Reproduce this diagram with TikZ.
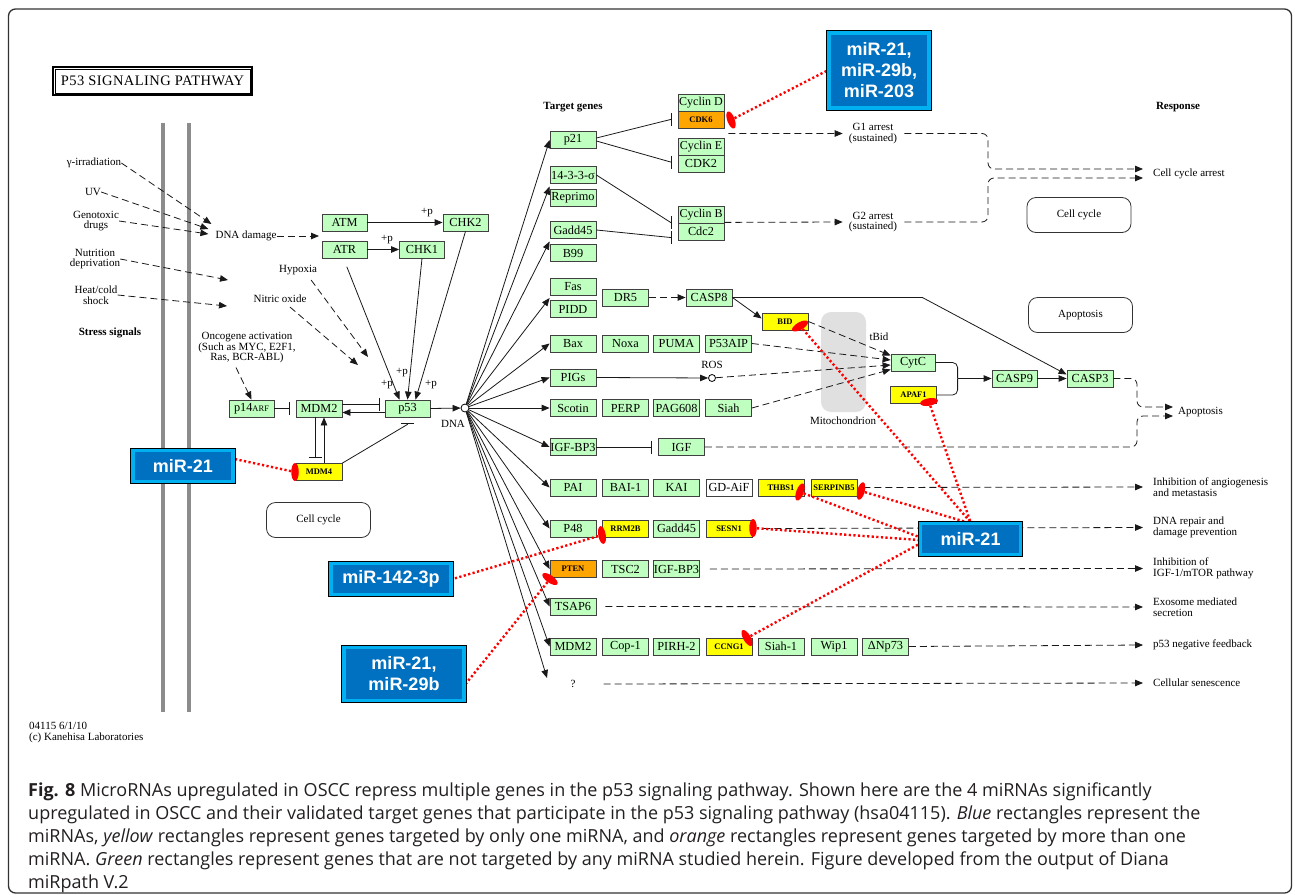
\documentclass[tikz,border=0pt]{standalone}
\usepackage{fontspec}
\setmainfont{Liberation Serif}
\newfontfamily\mirfont{Liberation Sans}
\newfontfamily\capfont{Open Sans}
\usetikzlibrary{arrows.meta,calc,shadows,shapes.geometric}
\pgfdeclarelayer{links}
\pgfdeclarelayer{front}
\pgfsetlayers{main,links,front}
\definecolor{kgreen}{HTML}{BFFFBF}
\definecolor{kyellow}{HTML}{FFFF00}
\definecolor{korange}{HTML}{FFA500}
\definecolor{mirblue}{HTML}{0070C0}
\definecolor{mircyan}{HTML}{00B0F0}
\definecolor{memgray}{HTML}{8C8C8C}
\definecolor{mitogray}{HTML}{E0E0E0}
\definecolor{captext}{HTML}{231F20}
\begin{document}
\begin{tikzpicture}[x=1pt,y=-1pt,
  gene/.style={draw=black!75, line width=0.8pt, fill=kgreen, minimum width=46pt, minimum height=17pt, inner sep=0pt, font=\fontsize{12.3}{12}\selectfont},
  ygene/.style={gene, fill=kyellow, font=\fontsize{8.5}{9}\selectfont\bfseries},
  ogene/.style={gene, fill=korange, font=\fontsize{8.5}{9}\selectfont\bfseries},
  wgene/.style={gene, fill=white},
  lab/.style={inner sep=0pt, font=\fontsize{11}{10.5}\selectfont, align=center},
  blab/.style={lab, font=\fontsize{11}{11}\selectfont\bfseries},
  rlab/.style={inner sep=0pt, anchor=west, font=\fontsize{11}{10.5}\selectfont, align=left},
  conn/.style={line width=0.8pt, black!90},
  arr/.style={conn, -{Triangle[length=8pt,width=6.5pt]}},
  dsh/.style={dash pattern=on 7pt off 4pt},
  inh/.style={conn, -{Bar[width=13pt]}},
  rbox/.style={draw=black!80, line width=0.8pt, rounded corners=9pt, minimum width=104pt, minimum height=35pt, font=\fontsize{11}{12}\selectfont},
  target/.style={ellipse, fill=red, inner sep=0pt, minimum width=7.5pt, minimum height=18pt},
  mirlink/.style={red, line width=2.4pt, dash pattern=on 2.2pt off 2.4pt},
  mirbox/.style={drop shadow={shadow xshift=3pt,shadow yshift=-3pt,opacity=0.35}, preaction={draw=black, line width=5.5pt}, draw=mircyan, line width=3.2pt, fill=mirblue, text=white, font=\mirfont\bfseries\fontsize{18}{21}\selectfont, align=center, inner sep=0pt},
  capline/.style={anchor=base west, inner sep=0pt, text=captext, font=\capfont\fontsize{18}{20}\selectfont},
]
\useasboundingbox (0,0) rectangle (1295,894);
% frame
\draw[black!80, line width=1.3pt, rounded corners=7pt] (8.5,9) rectangle (1291.5,893);
% title
\node[draw, line width=2pt, minimum width=199pt, minimum height=28pt, inner sep=0pt, font=\fontsize{14.5}{15}\selectfont\addfontfeature{LetterSpace=3}] (title) at (152.5,81) {P53 SIGNALING PATHWAY};
\draw[line width=0.7pt] ($(title.north west)+(3,3)$) rectangle ($(title.south east)+(-3,-3)$);
% membrane
\draw[memgray, line width=4pt] (162.5,123) -- (162.5,712);
\draw[memgray, line width=4pt] (188.5,123) -- (188.5,712);
% stress signals
\node[lab] (gamma) at (94,163) {γ-irradiation};
\node[lab] (uv) at (93,192) {UV};
\node[lab] (geno) at (96,221) {Genotoxic\\drugs};
\node[lab] (nutr) at (95,259) {Nutrition\\deprivation};
\node[lab] (heat) at (96,295) {Heat/cold\\shock};
\node[blab] (stress) at (110,333) {Stress signals};
\node[lab] (dnadmg) at (246,236) {DNA damage};
\coordinate (nutrend) at (228,280);
\coordinate (heatend) at (227,306);
\coordinate (ddend) at (319,236);
\draw[arr,dsh] (gamma.east) -- ($(dnadmg.west)+(-4,-12)$);
\draw[arr,dsh] (uv.east) -- ($(dnadmg.west)+(-7,-7)$);
\draw[arr,dsh] (geno.east) -- ($(dnadmg.west)+(-7,-2)$);
\draw[arr,dsh] (nutr.east) -- (nutrend);
\draw[arr,dsh] (heat.east) -- (heatend);
\draw[arr,dsh] (dnadmg.east) -- (ddend);
% kinases
\node[gene, minimum width=45pt] (atm) at (344.5,222.5) {ATM};
\node[gene, minimum width=45pt] (chk2) at (465.5,222.5) {CHK2};
\node[gene, minimum width=45pt] (atr) at (344.5,249.5) {ATR};
\node[gene, minimum width=45pt] (chk1) at (422,249.5) {CHK1};
\draw[arr] (atm.east) -- (chk2.west);
\draw[arr] (atr.east) -- (chk1.west);
\node[lab] (pp1) at (427,213) {+p};
\node[lab] (pp2) at (387,240) {+p};
% hypoxia etc
\node[lab] (hypox) at (298,270) {Hypoxia};
\node[lab] (nitric) at (280,299) {Nitric oxide};
\node[lab] (onco) at (247,348) {Oncogene activation\\(Such as MYC, E2F1,\\Ras, BCR-ABL)};
\coordinate (hypend) at (368,357);
\coordinate (nitend) at (358,365);
\draw[arr,dsh] ($(hypox.south east)+(-6,5)$) -- (hypend);
\draw[arr,dsh] ($(nitric.south)+(10,4)$) -- (nitend);
% p53 core
\node[gene, minimum width=45pt] (p14arf) at (251.5,408.5) {p14{\fontsize{8.5}{8}\selectfont ARF}};
\node[gene] (mdm2) at (319,408.5) {MDM2};
\node[gene, minimum width=45pt] (p53) at (407.5,408.5) {p53};
\node[ygene] (mdm4) at (319,472) {MDM4};
\node[circle, draw, line width=0.8pt, fill=white, minimum size=8pt, inner sep=0pt] (dna) at (465,408) {};
\node[lab] (dnalab) at (453,424) {DNA};
\draw[arr,dsh] ($(onco.south)+(-11,4)$) -- (p14arf.north);
\draw[arr] ($(atr.south)+(-1,0)$) -- ($(p53.north)+(-8,0)$) [shorten <=9pt];
\draw[arr] (chk1.south) -- (p53.north);
\draw[arr] (chk2.south) -- ($(p53.north)+(8,0)$);
\node[lab] (pp3) at (387,385) {+p};
\node[lab] (pp4) at (402,373) {+p};
\node[lab] (pp5) at (431,385) {+p};
\draw[inh, shorten >=6pt] (p14arf.east) -- (mdm2.west);
\draw[inh, shorten >=5pt] ($(mdm2.east)+(0,-4.5)$) -- ($(p53.west)+(0,-4.5)$);
\draw[arr] ($(p53.west)+(0,4)$) -- ($(mdm2.east)+(0,4)$);
\draw[arr] (p53.east) -- (dna);
\draw[inh, shorten >=5pt] ($(mdm2.south)+(-4,0)$) -- ($(mdm4.north)+(-4,0)$);
\draw[arr] ($(mdm4.north)+(5,0)$) -- ($(mdm2.south)+(5,0)$);
\draw[inh] (mdm4.north east) -- ($(p53.south)+(0,7)$) -- ($(p53.south)+(0,6)$);
\node[rbox] (ccbox2) at (318.5,520) {Cell cycle};
% target genes
\node[blab] (tglab) at (573,107) {Target genes};
\node[blab] (resplab) at (1178,107) {Response};
\node[gene] (p21) at (573,140) {p21};
\node[gene] (sig) at (573,175) {14-3-3-σ};
\node[gene] (reprimo) at (573,198) {Reprimo};
\node[gene] (gadd45a) at (573,230) {Gadd45};
\node[gene] (b99) at (573,253) {B99};
\node[gene] (fas) at (573,287) {Fas};
\node[gene] (pidd) at (573,309) {PIDD};
\node[gene] (dr5) at (625.5,297.5) {DR5};
\node[gene] (casp8) at (709,297.5) {CASP8};
\node[ygene] (bid) at (785,321.5) {BID};
\node[gene] (bax) at (573,343.5) {Bax};
\node[gene] (noxa) at (625.5,343.5) {Noxa};
\node[gene] (puma) at (676.5,343.5) {PUMA};
\node[gene] (p53aip) at (728.5,343.5) {P53AIP};
\node[gene] (pigs) at (573,377.5) {PIGs};
\node[gene] (scotin) at (573,408) {Scotin};
\node[gene] (perp) at (625.5,408) {PERP};
\node[gene] (pag608) at (676.5,408) {PAG608};
\node[gene] (siah) at (728.5,408) {Siah};
\node[gene] (igfbp3a) at (573,447) {IGF-BP3};
\node[gene] (igf) at (681.5,447) {IGF};
\node[gene] (pai) at (573,487.5) {PAI};
\node[gene] (bai1) at (625.5,487.5) {BAI-1};
\node[gene] (kai) at (676.5,487.5) {KAI};
\node[wgene] (gdaif) at (729,487.5) {GD-AiF};
\node[ygene] (thbs1) at (781,487.5) {THBS1};
\node[ygene] (serpinb5) at (834,487.5) {SERPINB5};
\node[gene] (p48) at (573,528.5) {P48};
\node[ygene] (rrm2b) at (625.5,528.5) {RRM2B};
\node[gene] (gadd45b) at (676.5,528.5) {Gadd45};
\node[ygene] (sesn1) at (729,528.5) {SESN1};
\node[ogene] (pten) at (573,569) {PTEN};
\node[gene] (tsc2) at (625.5,569) {TSC2};
\node[gene] (igfbp3b) at (676.5,569) {IGF-BP3};
\node[gene] (tsap6) at (573,606.5) {TSAP6};
\node[gene] (mdm2b) at (573,646.5) {MDM2};
\node[gene] (cop1) at (625.5,646.5) {Cop-1};
\node[gene] (pirh2) at (676.5,646.5) {PIRH-2};
\node[ygene] (ccng1) at (729,646.5) {CCNG1};
\node[gene] (siah1) at (781,646.5) {Siah-1};
\node[gene] (wip1) at (834,646.5) {Wip1};
\node[gene] (dnp73) at (885.5,646.5) {ΔNp73};
\node[lab] (q) at (573,684) {?};
\coordinate (qend) at (547,678);
\coordinate (t-sig) at ($(sig.south west)!0.5!(reprimo.north west)$);
\coordinate (t-gadd) at ($(gadd45a.south west)!0.5!(b99.north west)$);
\coordinate (t-fas) at ($(fas.south west)!0.5!(pidd.north west)$);
\foreach \t in {p21.west, t-sig, t-gadd, t-fas, bax.west, pigs.west, scotin.west, igfbp3a.west, pai.west, p48.west, pten.west, tsap6.west, mdm2b.west, qend}
  \draw[arr] (dna) -- (\t);
% cyclins
\node[gene, font=\fontsize{12}{12}\selectfont] (cycd) at (701,102.5) {Cyclin D};
\node[ogene] (cdk6) at (701,119.5) {CDK6};
\node[gene, font=\fontsize{12}{12}\selectfont] (cyce) at (701,146.5) {Cyclin E};
\node[gene] (cdk2) at (701,163.5) {CDK2};
\node[gene, font=\fontsize{12}{12}\selectfont] (cycb) at (701,214.5) {Cyclin B};
\node[gene] (cdc2) at (701,231.5) {Cdc2};
\draw[inh] ($(p21.east)+(0,-2)$) -- ($(cdk6.west)+(-7,0)$) -- ($(cdk6.west)+(-6,0)$);
\draw[inh] ($(p21.east)+(0,1)$) -- ($(cdk2.west)+(-7,-1.5)$) -- ($(cdk2.west)+(-6,-1.5)$);
\draw[inh] (sig.east) -- ($(cycb.south west)+(-7,-1)$) -- ($(cycb.south west)+(-6,-1)$);
\draw[inh] (gadd45a.east) -- ($(cdc2.west)+(-7,6)$) -- ($(cdc2.west)+(-6,6)$);
% G1 / G2
\node[lab] (g1) at (873,133.5) {G1 arrest\\(sustained)};
\node[lab] (g2) at (873,222) {G2 arrest\\(sustained)};
\node[rlab] (cca) at (1153,174) {Cell cycle arrest};
\node[rbox] (ccbox1) at (1079,215) {Cell cycle};
\draw[arr,dsh] ($(cdk6.south east)+(4,5)$) -- ($(g1.west)+(-6,0)$);
\draw[arr,dsh] ($(cycb.south east)+(0,-1)$) -- ($(g2.west)+(-6,0)$);
\draw[arr,dsh,rounded corners=6pt] ($(g1.east)+(7,0)$) -| ($(cca.west)+(-165,-5)$) -- ($(cca.west)+(-10,-5)$);
\draw[arr,dsh,rounded corners=6pt] ($(g2.east)+(7,0)$) -| ($(cca.west)+(-165,4)$) -- ($(cca.west)+(-10,4)$);
% apoptosis
\node[fill=mitogray, rounded corners=10pt, minimum width=45pt, minimum height=100pt, inner sep=0pt] (mito) at (843.5,362) {};
\node[lab] (mitolab) at (843,421) {Mitochondrion};
\node[lab] (tbid) at (879,337) {tBid};
\node[gene, minimum width=44pt] (cytc) at (913,362.5) {CytC};
\node[ygene] (apaf1) at (913.5,395) {APAF1};
\node[gene, minimum width=45pt] (casp9) at (1014.5,378.5) {CASP9};
\node[gene] (casp3) at (1090,378.5) {CASP3};
\node[rbox] (apbox) at (1080.5,315) {Apoptosis};
\node[rlab] (rapo) at (1178,412) {Apoptosis};
\node[lab] (roslab) at (712,365) {ROS};
\node[circle, draw, line width=0.8pt, fill=white, minimum size=7pt, inner sep=0pt] (ros) at (712,378) {};
\draw[arr,dsh] (dr5.east) -- (casp8.west);
\draw[arr] (casp8.east) -- ($(bid.west)+(0,-3)$);
\draw[arr] (casp8.east) -- ++(190,0) -- ($(casp3.west)+(0,-4)$);
\draw[arr] (pigs.east) -- (ros);
\draw[arr,dsh] (bid.east) -- ($(cytc.west)+(0,-7)$);
\draw[arr,dsh] (p53aip.east) -- ($(cytc.west)+(0,-2.5)$);
\draw[arr,dsh] (ros) -- ($(cytc.west)+(0,2.5)$);
\draw[arr,dsh] (siah.east) -- ($(cytc.west)+(0,7)$);
\coordinate (jn) at ($(casp9.west)+(-34,0)$);
\draw[conn, rounded corners=5pt] (cytc.east) -| (jn);
\draw[conn, rounded corners=5pt] (apaf1.east) -| (jn);
\draw[arr] (jn) -- (casp9.west);
\draw[arr] (casp9.east) -- (casp3.west);
\draw[inh, shorten >=6pt] (igfbp3a.east) -- (igf.west);
\draw[arr,dsh,rounded corners=6pt] (casp3.east) -| ($(rapo.west)+(-41,-5)$) -- ($(rapo.west)+(-5,-5)$);
\draw[arr,dsh,rounded corners=6pt] (igf.east) -| ($(rapo.west)+(-41,4)$) -- ($(rapo.west)+(-5,4)$);
% responses
\node[rlab] (rangio) at (1153,487) {Inhibition of angiogenesis\\and metastasis};
\node[rlab] (rdna) at (1153,527.5) {DNA repair and\\damage prevention};
\node[rlab] (rigf) at (1153,568.5) {Inhibition of\\IGF-1/mTOR pathway};
\node[rlab] (rexo) at (1153,607) {Exosome mediated\\secretion};
\node[rlab] (rfb) at (1153,645) {p53 negative feedback};
\node[rlab] (rsen) at (1153,683) {Cellular senescence};
\draw[arr,dsh] ($(serpinb5.east)+(6,0)$) -- ($(rangio.west)+(-10,0)$);
\draw[arr,dsh] ($(sesn1.east)+(11,0)$) -- ($(rdna.west)+(-10,0)$);
\draw[arr,dsh] ($(igfbp3b.east)+(10,0)$) -- ($(rigf.west)+(-10,0)$);
\draw[arr,dsh] ($(tsap6.east)+(9,0)$) -- ($(rexo.west)+(-10,0)$);
\draw[arr,dsh] (dnp73.east) -- ($(rfb.west)+(-10,0)$);
\draw[arr,dsh] ($(q.east)+(28,0)$) -- ($(rsen.west)+(-10,0)$);
% copyright
\node[inner sep=0pt, anchor=west, align=left, font=\fontsize{11}{11}\selectfont] (copy) at (29,732.5) {04115 6/1/10\\(c) Kanehisa Laboratories};
% targets (red ellipses)
\node[target, rotate=20] (e-cdk6) at (731,120) {};
\node[target, rotate=-60] (e-bid) at (800,326) {};
\node[target, rotate=-80] (e-apaf1) at (929,402) {};
\node[target, rotate=-20] (e-thbs1) at (800,492) {};
\node[target, rotate=-15] (e-serp) at (861,491) {};
\node[target] (e-sesn1) at (753,528) {};
\node[target, rotate=30] (e-ccng1) at (747,638) {};
\node[target, rotate=10] (e-rrm2b) at (602,535) {};
\node[target, rotate=55] (e-pten) at (550,579) {};
\node[target] (e-mdm4) at (295,472) {};
% miRNA boxes
\begin{pgfonlayer}{front}
\node[mirbox, minimum width=100pt, minimum height=75pt] (mirA) at (879,70.5) {miR-21,\\miR-29b,\\miR-203};
\node[mirbox, minimum width=100pt, minimum height=30.5pt] (mirL) at (183,466) {miR-21};
\node[mirbox, minimum width=120pt, minimum height=30.5pt] (mir142) at (391,579) {miR-142-3p};
\node[mirbox, minimum width=120pt, minimum height=52.5pt] (mirB) at (404,674) {miR-21,\\miR-29b};
\node[mirbox, minimum width=99.5pt, minimum height=30.5pt] (mirR) at (970.5,539) {miR-21};
\end{pgfonlayer}
\begin{pgfonlayer}{links}
\draw[mirlink] (e-cdk6) -- (mirA.west);
\draw[mirlink] (e-mdm4) -- ($(mirL.east)+(0,-7)$);
\draw[mirlink] (e-rrm2b) -- (mir142.east);
\draw[mirlink] (e-pten) -- ($(mirB.east)+(0,10)$);
\draw[mirlink] (e-bid) -- (mirR.north);
\draw[mirlink] (e-apaf1) -- (mirR.north);
\draw[mirlink] (e-serp) -- ($(mirR.north)+(-4,0)$);
\draw[mirlink] (e-thbs1) -- ($(mirR.west)+(0,-2)$);
\draw[mirlink] (e-sesn1) -- ($(mirR.west)+(0,1)$);
\draw[mirlink] (e-ccng1) -- ($(mirR.west)+(0,5)$);
\end{pgfonlayer}
% caption
\node[capline] (cap1) at (28,796) {\textbf{Fig. 8} MicroRNAs upregulated in OSCC repress multiple genes in the p53 signaling pathway. Shown here are the 4 miRNAs significantly};
\node[capline] (cap2) at (28,819) {upregulated in OSCC and their validated target genes that participate in the p53 signaling pathway (hsa04115). \textit{Blue} rectangles represent the};
\node[capline] (cap3) at (28,842) {miRNAs, \textit{yellow} rectangles represent genes targeted by only one miRNA, and \textit{orange} rectangles represent genes targeted by more than one};
\node[capline] (cap4) at (28,865) {miRNA. \textit{Green} rectangles represent genes that are not targeted by any miRNA studied herein. Figure developed from the output of Diana};
\node[capline] (cap5) at (28,888) {miRpath V.2};
\end{tikzpicture}
\end{document}
